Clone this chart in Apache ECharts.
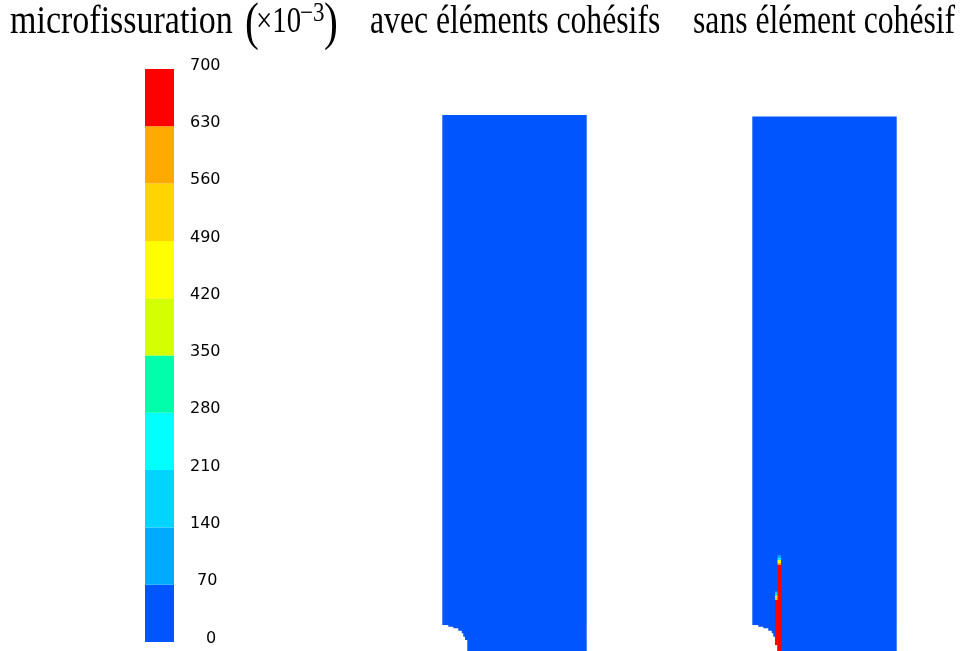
<!DOCTYPE html>
<html>
<head>
<meta charset="utf-8">
<script src="https://cdn.jsdelivr.net/npm/echarts@6/dist/echarts.min.js"></script>
<style>
html,body{margin:0;padding:0;background:#fff;}
#chart{width:963px;height:651px;}
</style>
</head>
<body>
<div id="chart"></div>
<script>
// ---------- data ----------
const levels = [0, 70, 140, 210, 280, 350, 420, 490, 560, 630, 700];
const levelColors = ['#0055FF', '#00AAFF', '#00D4FF', '#00FFFF', '#00FFAA',
                     '#D4FF00', '#FFFF00', '#FFD400', '#FFAA00', '#FF0000'];
const panelTitles = ['avec éléments cohésifs', 'sans élément cohésif'];
const plateWidth = 54;
const plateHeights = [200.4, 199.8];
// quarter hole boundary (mesh staircase), from top-left to bottom
const holeBoundary = [[0, 9.72], [2.24, 9.72], [2.24, 9.09], [4.11, 9.09], [4.11, 8.49],
  [5.98, 8.49], [5.98, 7.59], [7.26, 7.59], [7.26, 6.62], [7.85, 6.62], [7.85, 5.35],
  [8.49, 5.35], [8.49, 4.11], [9.35, 4.11], [9.35, 2.88], [9.35, 0]];
// damaged cells in the panel without cohesive elements: [x0, x1, y0, y1, value]
const crackCells = [
  [9.43, 10.74, 0, 32.2, 680],
  [9.43, 10.74, 32.2, 32.9, 600],
  [9.43, 10.74, 32.9, 34.1, 450],
  [9.43, 10.74, 34.1, 34.8, 250],
  [9.43, 10.74, 34.8, 35.8, 120],
  [8.5, 9.43, 2.2, 19.1, 680],
  [8.5, 9.43, 19.1, 20.0, 520],
  [8.5, 9.43, 20.0, 20.6, 450],
  [8.5, 9.43, 20.6, 21.3, 300],
  [8.5, 9.43, 21.3, 22.2, 150]
];

// ---------- helpers ----------
function colorFor(v) {
  for (let i = 0; i < levelColors.length; i++) {
    if (v < levels[i + 1]) return levelColors[i];
  }
  return levelColors[levelColors.length - 1];
}
function platePolygon(h) {
  const pts = [[0, h], [plateWidth, h], [plateWidth, 0]];
  for (let i = holeBoundary.length - 1; i >= 0; i--) pts.push(holeBoundary[i]);
  return pts;
}

const chart = echarts.init(document.getElementById('chart'), null, {renderer: 'canvas'});

const colorbarData = [];
for (let i = 0; i < levelColors.length; i++) colorbarData.push([levels[i], levels[i + 1], i]);

const serif = '"Liberation Serif", "Times New Roman", serif';

function titleText(txt, x, y, size, sx) {
  return {
    type: 'text', x: x, y: y, scaleX: sx, scaleY: 1,
    style: {text: txt, font: size + 'px ' + serif, fill: '#000',
            textAlign: 'left', verticalAlign: 'middle'}
  };
}

const option = {
  backgroundColor: '#ffffff',
  animation: false,
  grid: [
    {left: 145, top: 69, width: 29, height: 573},
    {left: 442.3, top: 115, width: 144.4, height: 536},
    {left: 752.3, top: 115, width: 144.4, height: 536}
  ],
  xAxis: [
    {gridIndex: 0, type: 'value', min: 0, max: 1, show: false},
    {gridIndex: 1, type: 'value', min: 0, max: plateWidth, show: false},
    {gridIndex: 2, type: 'value', min: 0, max: plateWidth, show: false}
  ],
  yAxis: [
    {gridIndex: 0, type: 'value', min: levels[0], max: levels[levels.length - 1],
     interval: 70, position: 'right',
     axisLine: {show: false}, axisTick: {show: false}, splitLine: {show: false},
     axisLabel: {
       show: true, margin: 16, align: 'left',
       formatter: function (v) {
         const s = String(v);
         return '{d' + s.length + '|' + s + '}';
       },
       rich: {
         d1: {fontFamily: '"DejaVu Sans"', fontSize: 16, color: '#000', padding: [0, 0, 7, 16]},
         d2: {fontFamily: '"DejaVu Sans"', fontSize: 16, color: '#000', padding: [0, 0, 7, 7]},
         d3: {fontFamily: '"DejaVu Sans"', fontSize: 16, color: '#000', padding: [0, 0, 7, 0]}
       }
     }},
    {gridIndex: 1, type: 'value', min: 0, max: 200.4, show: false},
    {gridIndex: 2, type: 'value', min: 0, max: 200.4, show: false}
  ],
  series: [
    {
      type: 'custom', xAxisIndex: 0, yAxisIndex: 0, silent: true,
      data: colorbarData,
      renderItem: function (params, api) {
        const p0 = api.coord([0, api.value(1)]);
        const p1 = api.coord([1, api.value(0)]);
        return {type: 'rect', shape: {x: p0[0], y: p0[1], width: p1[0] - p0[0], height: p1[1] - p0[1]},
                style: {fill: levelColors[api.value(2)]}};
      }
    },
    {
      type: 'custom', xAxisIndex: 1, yAxisIndex: 1, silent: true,
      data: [[0]],
      renderItem: function (params, api) {
        const pts = platePolygon(plateHeights[0]).map(function (p) { return api.coord(p); });
        return {type: 'polygon', shape: {points: pts}, style: {fill: colorFor(0)}};
      }
    },
    {
      type: 'custom', xAxisIndex: 2, yAxisIndex: 2, silent: true,
      data: [[0]],
      renderItem: function (params, api) {
        const pts = platePolygon(plateHeights[1]).map(function (p) { return api.coord(p); });
        return {type: 'polygon', shape: {points: pts}, style: {fill: colorFor(0)}};
      }
    },
    {
      type: 'custom', xAxisIndex: 2, yAxisIndex: 2, silent: true,
      data: crackCells,
      renderItem: function (params, api) {
        const p0 = api.coord([api.value(0), api.value(3)]);
        const p1 = api.coord([api.value(1), api.value(2)]);
        return {type: 'rect', shape: {x: p0[0], y: p0[1], width: p1[0] - p0[0], height: p1[1] - p0[1]},
                style: {fill: colorFor(api.value(4))}};
      }
    }
  ],
  graphic: [
    titleText('microfissuration', 10, 22.5, 40, 0.85),
    titleText('(', 245, 25, 52, 0.8),
    titleText('×10', 256, 22.5, 36, 0.8),
    titleText('−3', 300, 14, 27, 0.85),
    titleText(')', 324, 25, 52, 0.8),
    titleText(panelTitles[0], 370, 22.5, 40, 0.792),
    titleText(panelTitles[1], 693, 22.5, 40, 0.792)
  ]
};
chart.setOption(option);
</script>
</body>
</html>
